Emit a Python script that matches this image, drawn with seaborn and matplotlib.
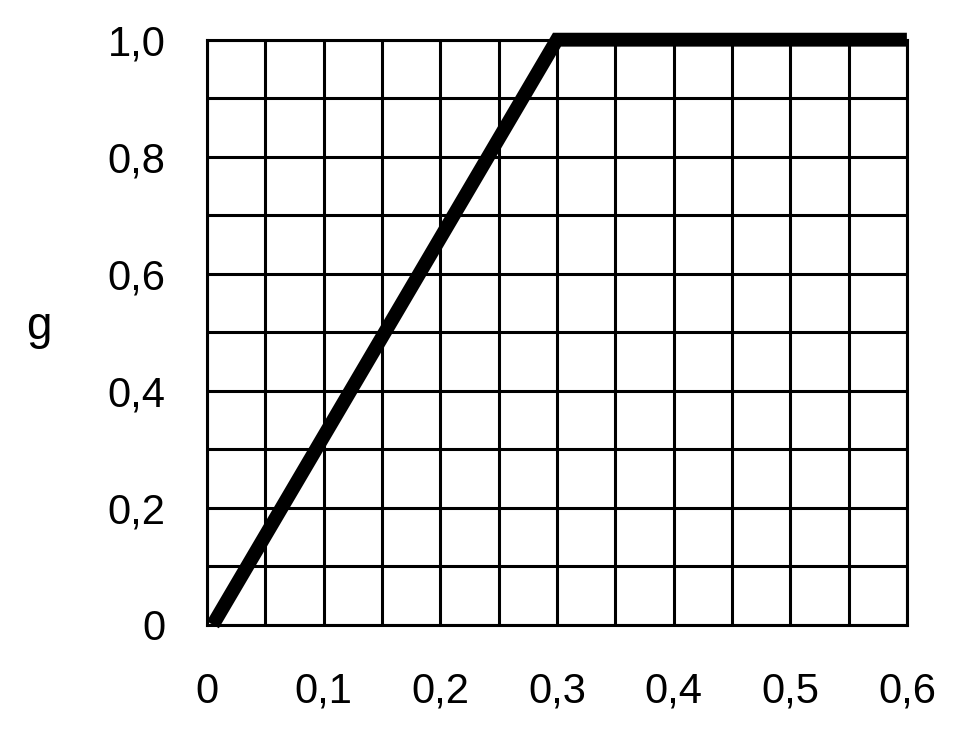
import matplotlib
matplotlib.use("Agg")
import matplotlib.pyplot as plt
import seaborn as sns
import pandas as pd
from matplotlib.ticker import MultipleLocator

sns.set_theme(style="white")
plt.rcParams['font.family'] = ['Liberation Sans', 'DejaVu Sans']
plt.rcParams['text.color'] = 'black'
plt.rcParams['xtick.color'] = 'black'
plt.rcParams['ytick.color'] = 'black'

# data
x_vals = [0.005, 0.3, 0.6]
g_vals = [0.0, 1.0, 1.0]
x_ticks = [0.0, 0.1, 0.2, 0.3, 0.4, 0.5, 0.6]
x_labels = ["0", "0,1", "0,2", "0,3", "0,4", "0,5", "0,6"]
y_ticks = [0.0, 0.2, 0.4, 0.6, 0.8, 1.0]
y_labels = ["0", "0,2", "0,4", "0,6", "0,8", "1,0"]

df = pd.DataFrame({"x": x_vals, "g": g_vals})

fig = plt.figure(figsize=(9.72, 7.35), dpi=100)
ax = fig.add_axes([0.213, 0.150, 0.720, 0.796])

ax.set_xlim(0, 0.6)
ax.set_ylim(0, 1.0)
ax.xaxis.set_minor_locator(MultipleLocator(0.05))
ax.yaxis.set_minor_locator(MultipleLocator(0.1))
ax.grid(True, which="both", color="black", linewidth=2.2)
ax.set_axisbelow(True)

sns.lineplot(data=df, x="x", y="g", ax=ax, color="black", linewidth=10,
             solid_capstyle="butt", solid_joinstyle="miter", clip_on=False)

ax.set_xticks(x_ticks)
ax.set_xticklabels(x_labels)
ax.set_yticks(y_ticks)
ax.set_yticklabels(y_labels)
ax.tick_params(axis="both", which="both", length=0, labelsize=30,
               labelcolor="black")
ax.tick_params(axis="x", pad=34)
ax.tick_params(axis="y", pad=30)
ax.set_xlabel("")
ax.set_ylabel("")
for s in ax.spines.values():
    s.set_color("black")
    s.set_linewidth(2.2)

fig.text(0.04, 0.555, "g", fontsize=33, ha="center", va="center",
         color="black")

fig.savefig("out.png", dpi=100, facecolor="white")
